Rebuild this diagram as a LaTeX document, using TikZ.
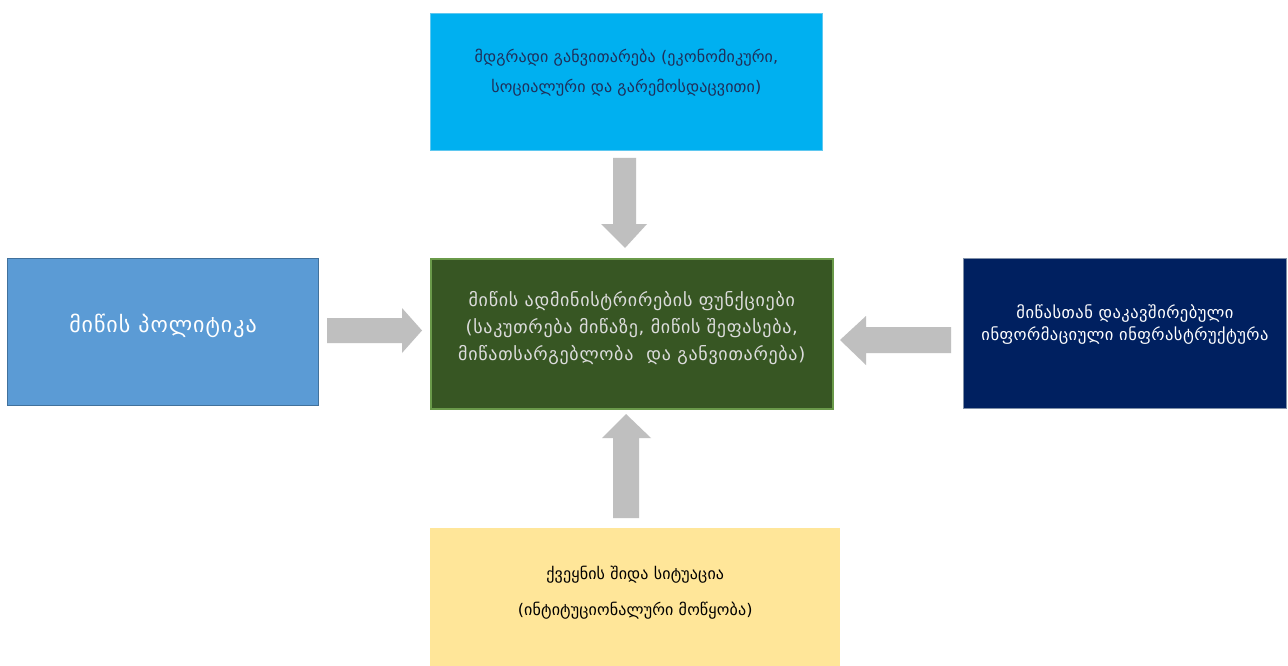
\documentclass[tikz,border=0pt]{standalone}
\usepackage{fontspec}
\setmainfont{DejaVu Sans}
\definecolor{topblue}{HTML}{00B0F0}
\definecolor{topborder}{HTML}{5FC8F0}
\definecolor{toptext}{HTML}{1F2F5A}
\definecolor{cgreen}{HTML}{375623}
\definecolor{cborder}{HTML}{6A9A4A}
\definecolor{ctext}{HTML}{DCDCDC}
\definecolor{lblue}{HTML}{5B9BD5}
\definecolor{lborder}{HTML}{41719C}
\definecolor{rnavy}{HTML}{002060}
\definecolor{rborder}{HTML}{8090A8}
\definecolor{byellow}{HTML}{FFE699}
\definecolor{arrowgray}{HTML}{BFBFBF}
\tikzset{
  boxbase/.style={anchor=north west, inner sep=0pt, rectangle},
  label/.style={inner sep=0pt, align=center},
  arrowfill/.style={fill=arrowgray, draw=none}
}
\begin{document}
\begin{tikzpicture}[x=1pt,y=-1pt]
\useasboundingbox (0,0) rectangle (1288,666);
\fill[white] (0,0) rectangle (1288,666);
% boxes
\node[boxbase, fill=topblue, draw=topborder, line width=0.8pt, minimum width=392pt, minimum height=137pt] (top) at (430,13) {};
\node[boxbase, fill=cgreen, draw=cborder, line width=1.5pt, minimum width=402pt, minimum height=150pt] (center) at (430,258) {};
\node[boxbase, fill=lblue, draw=lborder, line width=1pt, minimum width=311pt, minimum height=147pt] (left) at (7,258) {};
\node[boxbase, fill=rnavy, draw=rborder, line width=1pt, minimum width=323pt, minimum height=150pt] (right) at (963,258) {};
\node[boxbase, fill=byellow, draw=none, minimum width=410pt, minimum height=142pt] (bottom) at (430,528) {};
% texts
\node[label, text=toptext, font=\fontsize{16}{30}\selectfont\addfontfeature{LetterSpace=1}]
  (toplabel) at ([yshift=9.5pt]top.center)
  {მდგრადი განვითარება (ეკონომიკური,\\სოციალური და გარემოსდაცვითი)};
\node[label, text=ctext, font=\fontsize{18}{27}\selectfont\addfontfeature{LetterSpace=4}]
  (centerlabel) at ([yshift=6pt]center.center)
  {მიწის ადმინისტრირების ფუნქციები\\(საკუთრება მიწაზე, მიწის შეფასება,\\მიწათსარგებლობა\ \ და განვითარება)};
\node[label, text=white, font=\fontsize{22}{24}\selectfont\addfontfeature{LetterSpace=4.5}]
  (leftlabel) at ([yshift=6.5pt]left.center)
  {მიწის პოლიტიკა};
\node[label, text=white, font=\fontsize{16.5}{22}\selectfont\addfontfeature{LetterSpace=3}]
  (rightlabel) at ([yshift=9pt]right.center)
  {მიწასთან დაკავშირებული\\ინფორმაციული ინფრასტრუქტურა};
\node[label, text=black, font=\fontsize{16}{36}\selectfont\addfontfeature{LetterSpace=1}]
  (bottomlabel) at ([yshift=7pt]bottom.center)
  {ქვეყნის შიდა სიტუაცია\\(ინტიტუციონალური მოწყობა)};
% block arrows
\fill[arrowfill] (613,158) -- (636,158) -- (636,224) -- (647,224) -- (625,248) -- (601,224) -- (613,224) -- cycle;
\fill[arrowfill] (327,318) -- (402,318) -- (402,308) -- (422,330.5) -- (402,353) -- (402,343) -- (327,343) -- cycle;
\fill[arrowfill] (951,327) -- (866,327) -- (866,316) -- (840,340) -- (866,365) -- (866,353) -- (951,353) -- cycle;
\fill[arrowfill] (613,518) -- (613,438) -- (602,438) -- (626,414) -- (651,438) -- (639,438) -- (639,518) -- cycle;
\end{tikzpicture}
\end{document}
